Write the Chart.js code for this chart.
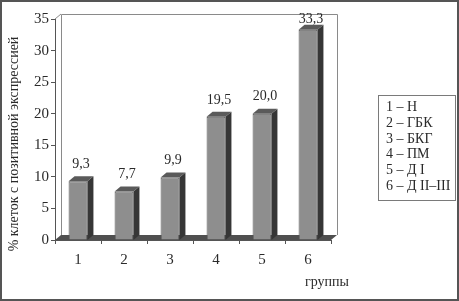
<!DOCTYPE html>
<html>
<head>
<meta charset="utf-8">
<script src="https://cdn.jsdelivr.net/npm/chart.js@4"></script>
<style>
  html, body { margin: 0; padding: 0; background: #fff; }
  #wrap { position: relative; width: 459px; height: 301px; }
  #legend {
    position: absolute; left: 378px; top: 95px; width: 78px; height: 106px;
    box-sizing: border-box; border: 1px solid #7a7a7a; padding: 3px 0 0 7px;
    font: 14px "Liberation Serif", serif; line-height: 15.8px; color: #2a2a2a; white-space: nowrap;
  }
</style>
</head>
<body>
<div id="wrap">
  <canvas id="c" width="459" height="301"></canvas>
  <div id="legend"></div>
</div>
<script>
// groups and the share of cells with positive expression (%)
const groups = ['1', '2', '3', '4', '5', '6'];
const groupNames = ['Н', 'ГБК', 'БКГ', 'ПМ', 'Д I', 'Д II–III'];
const positivePct = [9.3, 7.7, 9.9, 19.5, 20.0, 33.3];
const yMax = 35, yStep = 5;

const yTitle = '% клеток с позитивной экспрессией';
const xTitle = 'группы';

const FONT = '"Liberation Serif", serif';
const DX = 6, DY = 5; // depth of the 3D look

document.getElementById('legend').innerHTML =
    groups.map((g, i) => `<div>${g} – ${groupNames[i]}</div>`).join('');

const fmt = v => v.toFixed(1).replace('.', ',');

const bars3d = {
    id: 'bars3d',
    beforeDatasetsDraw(chart) {
        const { ctx, chartArea: a } = chart;
        ctx.save();
        // floor
        ctx.fillStyle = '#4f4f4f';
        ctx.beginPath();
        ctx.moveTo(a.left, a.bottom);
        ctx.lineTo(a.right, a.bottom);
        ctx.lineTo(a.right + DX, a.bottom - DY);
        ctx.lineTo(a.left + DX, a.bottom - DY);
        ctx.closePath();
        ctx.fill();
        // back wall
        ctx.strokeStyle = '#8a8a8a';
        ctx.lineWidth = 1;
        ctx.beginPath();
        ctx.moveTo(a.left + DX + 0.5, a.bottom - DY);
        ctx.lineTo(a.left + DX + 0.5, a.top - DY + 0.5);
        ctx.lineTo(a.right + DX + 0.5, a.top - DY + 0.5);
        ctx.lineTo(a.right + DX + 0.5, a.bottom - DY);
        ctx.moveTo(a.left, a.top);
        ctx.lineTo(a.left + DX, a.top - DY);
        ctx.stroke();
        ctx.restore();
    },
    afterDatasetsDraw(chart) {
        const ctx = chart.ctx;
        const base = chart.scales.y.getPixelForValue(0);
        const meta = chart.getDatasetMeta(0);
        ctx.save();
        meta.data.forEach((bar, i) => {
            const { x, y, width } = bar.getProps(['x', 'y', 'width'], true);
            const l = x - width / 2, r = x + width / 2;
            ctx.fillStyle = '#363636';
            ctx.beginPath();
            ctx.moveTo(r, y); ctx.lineTo(r + DX, y - DY);
            ctx.lineTo(r + DX, base - DY); ctx.lineTo(r, base);
            ctx.closePath(); ctx.fill();
            ctx.fillStyle = '#5a5a5a';
            ctx.beginPath();
            ctx.moveTo(l, y); ctx.lineTo(l + DX, y - DY);
            ctx.lineTo(r + DX, y - DY); ctx.lineTo(r, y);
            ctx.closePath(); ctx.fill();

            ctx.fillStyle = '#2a2a2a';
            ctx.font = '14px ' + FONT;
            ctx.textAlign = 'center';
            ctx.textBaseline = 'middle';
            ctx.fillText(fmt(positivePct[i]), x + 3, Math.max(y - 17, 19));
        });
        ctx.restore();
    },
    afterDraw(chart) {
        const ctx = chart.ctx;
        ctx.save();
        ctx.fillStyle = '#2a2a2a';
        ctx.font = '14px ' + FONT;
        ctx.textAlign = 'center';
        ctx.textBaseline = 'middle';
        ctx.fillText(xTitle, 327, 282);
        ctx.translate(14, 144);
        ctx.rotate(-Math.PI / 2);
        ctx.fillText(yTitle, 0, 0);
        ctx.restore();
        ctx.save();
        ctx.strokeStyle = '#555';
        ctx.lineWidth = 2;
        ctx.strokeRect(1, 1, 457, 299);
        ctx.restore();
    }
};

new Chart(document.getElementById('c'), {
    type: 'bar',
    data: {
        labels: groups,
        datasets: [{
            data: positivePct,
            backgroundColor: '#8e8e8e',
            borderColor: '#555',
            borderWidth: 1,
            categoryPercentage: 1,
            barPercentage: 0.41
        }]
    },
    options: {
        responsive: false,
        animation: false,
        layout: { padding: { top: 19, right: 128, left: 0, bottom: 0 } },
        plugins: { legend: { display: false }, tooltip: { enabled: false } },
        scales: {
            x: {
                grid: { offset: true, drawOnChartArea: false, tickLength: 4, color: '#555' },
                border: { color: '#555' },
                ticks: { padding: 7, color: '#2a2a2a', font: { family: FONT, size: 15 } },
                afterFit(s) { s.height = 61; }
            },
            y: {
                min: 0, max: yMax,
                grid: { drawOnChartArea: false, tickLength: 4, color: '#555' },
                border: { color: '#555' },
                ticks: { stepSize: yStep, padding: 2, color: '#2a2a2a', font: { family: FONT, size: 15 } },
                afterFit(s) { s.width = 55; }
            }
        }
    },
    plugins: [bars3d]
});
</script>
</body>
</html>
